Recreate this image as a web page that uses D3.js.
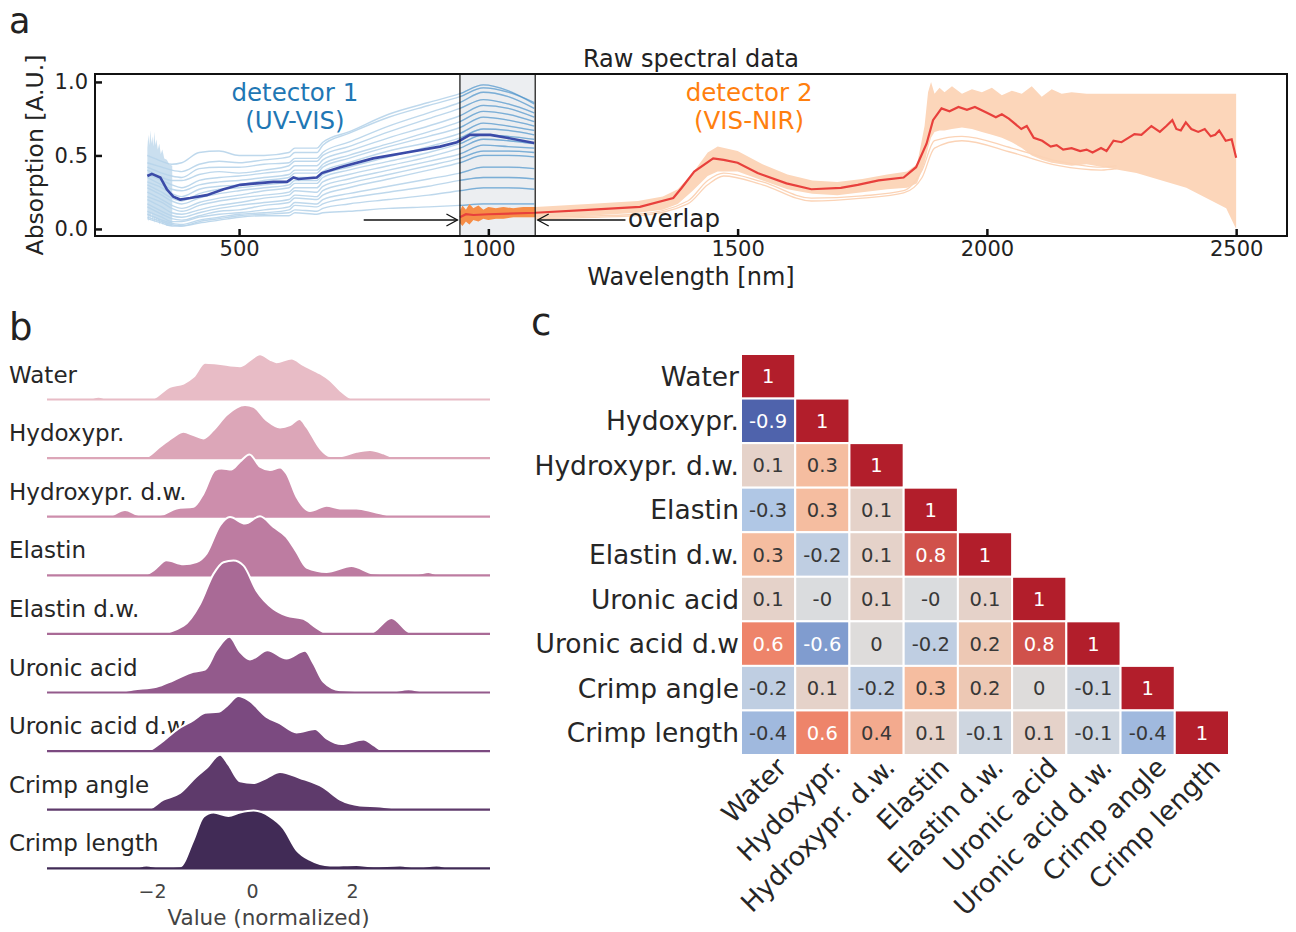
<!DOCTYPE html>
<html>
<head>
<meta charset="utf-8">
<script src="https://cdn.jsdelivr.net/npm/d3@7"></script>
<style>
  body { margin: 0; background: #fff; }
  text { font-family: "DejaVu Sans", sans-serif; }
</style>
</head>
<body>
<svg id="fig" width="1296" height="932"></svg>
<script>
// ---------- panel a : raw spectra ----------
var xTicksA = [500, 1000, 1500, 2000, 2500];
var yTicksA = [0, 0.5, 1.0];
var overlapRange = [943, 1094];

// detector 1 (UV-VIS) individual spectra, read at these wavelengths
var d1Wl = [316, 345, 365, 385, 420, 460, 500, 550, 600, 612, 656, 668, 720, 800, 880, 943, 990, 1040, 1092];
var d1Spectra = [
  [0.50, 0.46, 0.44, 0.45, 0.52, 0.53, 0.50, 0.50, 0.52, 0.55, 0.55, 0.59, 0.66, 0.78, 0.86, 0.92, 0.98, 0.94, 0.85],
  [0.45, 0.42, 0.40, 0.39, 0.44, 0.46, 0.45, 0.47, 0.49, 0.52, 0.52, 0.57, 0.65, 0.76, 0.84, 0.90, 0.96, 0.93, 0.86],
  [0.42, 0.38, 0.36, 0.35, 0.41, 0.42, 0.42, 0.44, 0.45, 0.48, 0.48, 0.52, 0.59, 0.70, 0.79, 0.86, 0.93, 0.90, 0.82],
  [0.40, 0.35, 0.33, 0.33, 0.37, 0.39, 0.38, 0.40, 0.43, 0.46, 0.46, 0.50, 0.56, 0.66, 0.75, 0.82, 0.88, 0.85, 0.79],
  [0.37, 0.33, 0.30, 0.28, 0.33, 0.35, 0.36, 0.38, 0.40, 0.43, 0.43, 0.47, 0.53, 0.62, 0.70, 0.77, 0.84, 0.82, 0.76],
  [0.35, 0.30, 0.27, 0.26, 0.30, 0.32, 0.33, 0.35, 0.37, 0.40, 0.40, 0.44, 0.50, 0.58, 0.66, 0.73, 0.80, 0.78, 0.73],
  [0.32, 0.28, 0.24, 0.22, 0.27, 0.29, 0.30, 0.33, 0.35, 0.38, 0.38, 0.42, 0.48, 0.56, 0.63, 0.69, 0.76, 0.74, 0.70],
  [0.30, 0.25, 0.21, 0.19, 0.24, 0.27, 0.28, 0.30, 0.32, 0.35, 0.35, 0.39, 0.45, 0.53, 0.59, 0.65, 0.72, 0.70, 0.67],
  [0.28, 0.23, 0.19, 0.17, 0.21, 0.24, 0.26, 0.28, 0.30, 0.33, 0.33, 0.37, 0.42, 0.49, 0.56, 0.62, 0.68, 0.67, 0.64],
  [0.25, 0.20, 0.16, 0.14, 0.18, 0.21, 0.23, 0.26, 0.28, 0.31, 0.31, 0.35, 0.40, 0.46, 0.52, 0.58, 0.64, 0.63, 0.61],
  [0.22, 0.18, 0.14, 0.12, 0.16, 0.19, 0.21, 0.23, 0.25, 0.28, 0.28, 0.32, 0.37, 0.43, 0.49, 0.55, 0.61, 0.60, 0.58],
  [0.20, 0.15, 0.11, 0.10, 0.13, 0.16, 0.18, 0.21, 0.23, 0.26, 0.25, 0.29, 0.34, 0.40, 0.46, 0.51, 0.57, 0.56, 0.55],
  [0.17, 0.12, 0.09, 0.08, 0.11, 0.14, 0.16, 0.18, 0.20, 0.23, 0.22, 0.26, 0.31, 0.37, 0.43, 0.48, 0.53, 0.53, 0.52],
  [0.15, 0.10, 0.07, 0.06, 0.09, 0.12, 0.13, 0.16, 0.18, 0.21, 0.20, 0.23, 0.28, 0.34, 0.40, 0.45, 0.50, 0.50, 0.49],
  [0.12, 0.08, 0.05, 0.05, 0.08, 0.10, 0.11, 0.13, 0.15, 0.18, 0.17, 0.20, 0.24, 0.29, 0.34, 0.38, 0.42, 0.42, 0.41],
  [0.10, 0.06, 0.04, 0.03, 0.06, 0.08, 0.10, 0.11, 0.13, 0.16, 0.15, 0.17, 0.21, 0.25, 0.29, 0.33, 0.35, 0.35, 0.34],
  [0.08, 0.05, 0.03, 0.02, 0.05, 0.07, 0.09, 0.10, 0.11, 0.13, 0.12, 0.14, 0.17, 0.20, 0.23, 0.26, 0.28, 0.28, 0.27],
  [0.07, 0.04, 0.02, 0.02, 0.04, 0.06, 0.08, 0.09, 0.09, 0.11, 0.10, 0.11, 0.12, 0.14, 0.15, 0.16, 0.17, 0.17, 0.17]
];
// noisy UV start of detector 1
var d1NoiseWl = [316, 318, 320, 322, 324, 326, 328, 330, 332, 334, 337, 340, 343, 346, 350, 355, 360, 366];
var d1NoiseHi = [0.55, 0.64, 0.57, 0.67, 0.58, 0.63, 0.56, 0.66, 0.57, 0.61, 0.54, 0.58, 0.51, 0.54, 0.48, 0.47, 0.44, 0.43];
var d1NoiseLo = [0.10, 0.05, 0.09, 0.06, 0.11, 0.05, 0.09, 0.04, 0.08, 0.05, 0.07, 0.03, 0.06, 0.03, 0.04, 0.02, 0.02, 0.02];
// detector 1 mean
var d1MeanWl = [316, 325, 342, 355, 368, 382, 402, 435, 469, 502, 535, 569, 596, 609, 619, 656, 666, 703, 769, 836, 903, 937, 963, 1004, 1037, 1092];
var d1Mean = [0.36, 0.375, 0.35, 0.27, 0.22, 0.20, 0.21, 0.23, 0.27, 0.30, 0.31, 0.32, 0.32, 0.35, 0.34, 0.35, 0.38, 0.42, 0.48, 0.52, 0.56, 0.59, 0.64, 0.64, 0.62, 0.585];

// detector 2 (VIS-NIR) spread of spectra
var d2BandWl = [943, 948, 955, 962, 970, 980, 990, 1000, 1015, 1030, 1050, 1070, 1094,
  1200, 1300, 1350, 1380, 1410, 1440, 1460, 1500, 1550, 1600,
  1650, 1700, 1750, 1800, 1840, 1860, 1875, 1882, 1888, 1895,
  1905, 1915, 1930, 1950, 1970, 1990, 2010, 2030, 2050, 2070,
  2090, 2110, 2130, 2150, 2170, 2200, 2300, 2400, 2480, 2500];
var d2Upper = [0.12, 0.16, 0.13, 0.17, 0.14, 0.16, 0.13, 0.15, 0.14, 0.15, 0.14, 0.15, 0.15,
  0.17, 0.19, 0.22, 0.27, 0.38, 0.52, 0.56, 0.53, 0.44, 0.37,
  0.33, 0.32, 0.34, 0.37, 0.39, 0.44, 0.70, 0.93, 1.00, 0.92,
  0.96, 0.93, 0.97, 0.92, 0.95, 0.93, 0.96, 0.91, 0.94, 0.92,
  0.97, 0.90, 0.95, 0.92, 0.93, 0.92, 0.92, 0.92, 0.92, 0.92];
var d2Lower = [0.04, 0.02, 0.05, 0.03, 0.06, 0.05, 0.07, 0.06, 0.07, 0.07, 0.08, 0.08, 0.08,
  0.09, 0.11, 0.13, 0.17, 0.26, 0.36, 0.39, 0.39, 0.33, 0.27,
  0.24, 0.23, 0.25, 0.27, 0.28, 0.31, 0.45, 0.55, 0.62, 0.66,
  0.67, 0.67, 0.68, 0.69, 0.68, 0.66, 0.64, 0.62, 0.59, 0.55,
  0.50, 0.47, 0.45, 0.44, 0.43, 0.44, 0.38, 0.28, 0.14, 0.0];
// two low outlying spectra of detector 2
var d2LowWl = [1094, 1300, 1400, 1440, 1472, 1550, 1648, 1750, 1833, 1870, 1895, 1950, 2050, 2144, 2229, 2260];
var d2Low1 = [0.07, 0.09, 0.17, 0.30, 0.36, 0.30, 0.19, 0.21, 0.245, 0.35, 0.55, 0.60, 0.52, 0.43, 0.40, 0.41];
var d2Low2 = [0.08, 0.10, 0.19, 0.33, 0.38, 0.32, 0.21, 0.225, 0.26, 0.40, 0.60, 0.63, 0.55, 0.46, 0.42, 0.43];
// detector 2 mean
var d2MeanWl = [943, 955, 970, 1000, 1094, 1200, 1304, 1371, 1388, 1413, 1451, 1472, 1500, 1540, 1598, 1648, 1707, 1741, 1783, 1833,
  1858, 1879, 1892, 1909, 1925, 1943, 1960, 1976, 2000, 2018, 2030, 2044, 2069, 2080, 2094, 2111, 2128, 2140, 2153, 2170,
  2187, 2200, 2212, 2229, 2240, 2254, 2270, 2296, 2310, 2330, 2347, 2360, 2372, 2380, 2389, 2399, 2410, 2424, 2437, 2449,
  2458, 2466, 2479, 2491, 2500];
var d2Mean = [0.08, 0.10, 0.095, 0.10, 0.11, 0.13, 0.15, 0.21, 0.28, 0.39, 0.48, 0.47, 0.45, 0.38, 0.31, 0.27, 0.28, 0.30, 0.33, 0.35,
  0.42, 0.58, 0.74, 0.82, 0.80, 0.83, 0.81, 0.83, 0.79, 0.76, 0.78, 0.75, 0.68, 0.70, 0.62, 0.60, 0.56, 0.57, 0.54, 0.55,
  0.53, 0.54, 0.52, 0.55, 0.53, 0.60, 0.59, 0.645, 0.64, 0.70, 0.66, 0.70, 0.74, 0.68, 0.67, 0.725, 0.68, 0.66, 0.68, 0.63,
  0.64, 0.67, 0.60, 0.61, 0.485];

// ---------- panel b : ridge densities [value, density] ----------
var ridgeLabels = ["Water", "Hydoxypr.", "Hydroxypr. d.w.", "Elastin", "Elastin d.w.", "Uronic acid", "Uronic acid d.w.", "Crimp angle", "Crimp length"];
var ridgeColors = ["#e8bcc6", "#dca6b8", "#cd8eac", "#bd7ca1", "#a96a96", "#935a8c", "#7b4a80", "#5e3a6b", "#412b56"];
var kdeWater = [[-4.1,0],[-3.3,0],[-3.07,0.027],[-2.85,0],[-2.04,0],[-1.64,0.127],[-1.37,0.16],[-1.17,0.227],[-0.94,0.367],[-0.71,0.36],[-0.24,0.333],[-0.04,0.393],[0.16,0.453],[0.36,0.40],[0.49,0.373],[0.79,0.41],[1.03,0.343],[1.36,0.26],[1.56,0.193],[1.76,0.093],[1.99,0.01],[2.1,0],[4.1,0]];
var kdeHydoxypr = [[-4.1,0],[-2.17,0],[-1.84,0.113],[-1.57,0.213],[-1.37,0.263],[-1.17,0.23],[-0.97,0.197],[-0.77,0.28],[-0.51,0.43],[-0.14,0.53],[0.03,0.513],[0.29,0.38],[0.56,0.307],[0.76,0.33],[0.95,0.39],[1.09,0.313],[1.36,0.097],[1.56,0.02],[1.76,0.02],[2.09,0.063],[2.36,0.08],[2.63,0.047],[2.83,0.007],[3.0,0],[4.1,0]];
var kdeHydroxyprDw = [[-4.1,0],[-2.9,0],[-2.54,0.067],[-2.24,0.017],[-1.84,0.017],[-1.51,0.083],[-1.17,0.10],[-0.97,0.233],[-0.74,0.467],[-0.61,0.483],[-0.41,0.473],[-0.24,0.55],[-0.05,0.623],[0.16,0.50],[0.36,0.467],[0.56,0.493],[0.69,0.433],[0.89,0.20],[1.16,0.057],[1.49,0.11],[1.76,0.083],[2.09,0.083],[2.43,0.05],[2.76,0.01],[3.0,0],[4.1,0]];
var kdeElastin = [[-4.1,0],[-2.17,0],[-1.97,0.05],[-1.71,0.15],[-1.37,0.11],[-1.11,0.133],[-0.91,0.217],[-0.64,0.50],[-0.44,0.583],[-0.14,0.517],[0.16,0.59],[0.43,0.483],[0.69,0.383],[0.89,0.233],[1.09,0.077],[1.49,0.033],[1.99,0.093],[2.43,0.017],[2.83,0.007],[3.3,0.01],[3.53,0.033],[3.76,0],[4.1,0]];
var kdeElastinDw = [[-4.1,0],[-1.91,0],[-1.37,0.083],[-1.04,0.30],[-0.77,0.60],[-0.57,0.717],[-0.37,0.733],[-0.17,0.683],[0.09,0.433],[0.43,0.25],[0.69,0.183],[1.03,0.15],[1.29,0.06],[1.49,0.007],[2.36,0.007],[2.79,0.16],[3.16,0.013],[3.4,0],[4.1,0]];
var kdeUronic = [[-4.1,0],[-2.71,0],[-2.37,0.03],[-1.91,0.057],[-1.57,0.123],[-1.17,0.207],[-0.94,0.23],[-0.71,0.423],[-0.45,0.557],[-0.24,0.407],[-0.04,0.33],[0.31,0.423],[0.69,0.34],[1.06,0.417],[1.23,0.29],[1.43,0.107],[1.76,0.023],[2.76,0.007],[3.13,0.033],[3.43,0.007],[3.7,0],[4.1,0]];
var kdeUronicDw = [[-4.1,0],[-2.11,0],[-1.84,0.077],[-1.51,0.21],[-1.17,0.31],[-0.94,0.383],[-0.67,0.393],[-0.51,0.45],[-0.27,0.55],[-0.07,0.51],[0.29,0.343],[0.56,0.277],[0.89,0.187],[1.26,0.22],[1.49,0.127],[1.79,0.07],[2.23,0.117],[2.43,0.06],[2.63,0.003],[4.1,0]];
var kdeCrimpAngle = [[-4.1,0],[-2.11,0],[-1.77,0.10],[-1.44,0.167],[-1.11,0.333],[-0.91,0.417],[-0.64,0.55],[-0.47,0.45],[-0.24,0.283],[0.03,0.267],[0.29,0.317],[0.56,0.377],[0.96,0.317],[1.43,0.223],[1.76,0.10],[2.16,0.043],[2.56,0.033],[2.96,0.007],[3.2,0],[4.1,0]];
var kdeCrimpLength = [[-4.1,0],[-2.4,0],[-2.11,0.027],[-1.84,0.007],[-1.44,0.017],[-1.17,0.283],[-0.97,0.517],[-0.77,0.557],[-0.47,0.523],[-0.24,0.557],[0.03,0.577],[0.36,0.517],[0.63,0.40],[0.89,0.183],[1.16,0.083],[1.56,0.027],[2.09,0.033],[2.43,0.017],[2.96,0.027],[3.29,0.007],[3.69,0.027],[4.03,0],[4.1,0]];
var ridgeKde = [kdeWater, kdeHydoxypr, kdeHydroxyprDw, kdeElastin, kdeElastinDw, kdeUronic, kdeUronicDw, kdeCrimpAngle, kdeCrimpLength];
var xTicksB = [-2, 0, 2];

// ---------- panel c : correlation matrix (lower triangle) ----------
var corrRowLabels = ["Water", "Hydoxypr.", "Hydroxypr. d.w.", "Elastin", "Elastin d.w.", "Uronic acid", "Uronic acid d.w", "Crimp angle", "Crimp length"];
var corrColLabels = ["Water", "Hydoxypr.", "Hydroxypr. d.w.", "Elastin", "Elastin d.w.", "Uronic acid", "Uronic acid d.w.", "Crimp angle", "Crimp length"];
var corrRows = [
  [1],
  [-0.9, 1],
  [0.1, 0.3, 1],
  [-0.3, 0.3, 0.1, 1],
  [0.3, -0.2, 0.1, 0.8, 1],
  [0.1, -0.02, 0.1, -0.02, 0.1, 1],
  [0.6, -0.6, 0.01, -0.2, 0.2, 0.8, 1],
  [-0.2, 0.1, -0.2, 0.3, 0.2, 0.01, -0.1, 1],
  [-0.4, 0.6, 0.4, 0.1, -0.1, 0.1, -0.1, -0.4, 1]
];

var svg = d3.select("#fig");
var defs = svg.append("defs");
var ink = "#222";

// ================= panel a =================
var A = {left: 95, right: 1287, top: 74, bottom: 236};
var xA = d3.scaleLinear().domain([211, 2602]).range([A.left, A.right]);
var yA = d3.scaleLinear().domain([-0.048, 1.054]).range([A.bottom, A.top]);

defs.append("clipPath").attr("id", "clipA").append("rect")
  .attr("x", A.left).attr("y", A.top).attr("width", A.right - A.left).attr("height", A.bottom - A.top);
defs.append("clipPath").attr("id", "clipOv").append("rect")
  .attr("x", xA(overlapRange[0])).attr("y", A.top)
  .attr("width", xA(overlapRange[1]) - xA(overlapRange[0])).attr("height", A.bottom - A.top);

var gA = svg.append("g").attr("clip-path", "url(#clipA)");

// gray overlap region
gA.append("rect")
  .attr("x", xA(overlapRange[0])).attr("y", A.top)
  .attr("width", xA(overlapRange[1]) - xA(overlapRange[0])).attr("height", A.bottom - A.top)
  .attr("fill", "#eceef1");

var d1Line = d3.line().x((d, i) => xA(d1Wl[i])).y(d => yA(d)).curve(d3.curveMonotoneX);

// noisy UV part
var noiseArea = d3.area()
  .x((d, i) => xA(d1NoiseWl[i]))
  .y0((d, i) => yA(d1NoiseLo[i]))
  .y1(d => yA(d));
gA.append("path").datum(d1NoiseHi).attr("d", noiseArea)
  .attr("fill", "#c4dbed").attr("opacity", 0.9);

gA.append("g").selectAll("path").data(d1Spectra).enter().append("path")
  .attr("d", d1Line).attr("fill", "none")
  .attr("stroke", "#b7d4ea").attr("stroke-width", 1.4).attr("opacity", 0.9);

// same spectra, darker inside the overlap
gA.append("g").attr("clip-path", "url(#clipOv)")
  .selectAll("path").data(d1Spectra).enter().append("path")
  .attr("d", d1Line).attr("fill", "none")
  .attr("stroke", "#3a86c2").attr("stroke-width", 1.3).attr("opacity", 0.5);

// detector 2 band
var d2Area = d3.area()
  .x((d, i) => xA(d2BandWl[i]))
  .y0((d, i) => yA(d2Lower[i]))
  .y1(d => yA(d));
gA.append("path").datum(d2Upper).attr("d", d2Area).attr("fill", "#fcd6ba");
gA.append("path").datum(d2Upper).attr("d", d2Area)
  .attr("clip-path", "url(#clipOv)").attr("fill", "#f47a2b").attr("opacity", 0.8);

var lowLine = d3.line().x((d, i) => xA(d2LowWl[i])).y(d => yA(d)).curve(d3.curveMonotoneX);
gA.selectAll("path.low").data([d2Low1, d2Low2]).enter().append("path")
  .attr("class", "low").attr("d", lowLine).attr("fill", "none")
  .attr("stroke", "#fbd3b6").attr("stroke-width", 1.3);

// means
gA.append("path").datum(d1Mean)
  .attr("d", d3.line().x((d, i) => xA(d1MeanWl[i])).y(d => yA(d)))
  .attr("fill", "none").attr("stroke", "#3b4ba8").attr("stroke-width", 2.6);
gA.append("path").datum(d2Mean)
  .attr("d", d3.line().x((d, i) => xA(d2MeanWl[i])).y(d => yA(d)))
  .attr("fill", "none").attr("stroke", "#e8403c").attr("stroke-width", 2.2);

// overlap border
svg.append("rect")
  .attr("x", xA(overlapRange[0])).attr("y", A.top)
  .attr("width", xA(overlapRange[1]) - xA(overlapRange[0])).attr("height", A.bottom - A.top)
  .attr("fill", "none").attr("stroke", "#111").attr("stroke-width", 1.2);

// axes (inward ticks)
var xAxisA = svg.append("g").attr("transform", `translate(0,${A.bottom})`)
  .call(d3.axisBottom(xA).tickValues(xTicksA).tickFormat(d3.format("d")).tickSize(-7).tickPadding(5));
var yAxisA = svg.append("g").attr("transform", `translate(${A.left},0)`)
  .call(d3.axisLeft(yA).tickValues(yTicksA).tickFormat(d3.format(".1f")).tickSize(-7).tickPadding(7));
[xAxisA, yAxisA].forEach(function(ax) {
  ax.select(".domain").remove();
  ax.selectAll(".tick line").attr("stroke", "#111").attr("stroke-width", 2.5);
  ax.selectAll(".tick text").attr("font-size", 21).attr("fill", ink)
    .style("font-family", "DejaVu Sans");
});

svg.append("rect")
  .attr("x", A.left).attr("y", A.top)
  .attr("width", A.right - A.left).attr("height", A.bottom - A.top)
  .attr("fill", "none").attr("stroke", "#111").attr("stroke-width", 2);

// arrows and text
function arrow(x1, x2, v) {
  var y = yA(v), dir = x2 > x1 ? 1 : -1;
  svg.append("line").attr("x1", xA(x1)).attr("x2", xA(x2)).attr("y1", y).attr("y2", y)
    .attr("stroke", "#111").attr("stroke-width", 1.3);
  var hx = xA(x2);
  svg.append("path")
    .attr("d", `M${hx - dir * 11},${y - 6} L${hx},${y} L${hx - dir * 11},${y + 6}`)
    .attr("fill", "none").attr("stroke", "#111").attr("stroke-width", 1.3);
}
arrow(750, 938, 0.061);
arrow(1275, 1099, 0.061);
svg.append("text").attr("x", xA(1280)).attr("y", yA(0.014))
  .attr("font-size", 24.5).attr("fill", ink).text("overlap");

svg.append("text").attr("x", xA(612)).attr("y", yA(0.87)).attr("text-anchor", "middle")
  .attr("font-size", 24.5).attr("fill", "#1f77b4").text("detector 1");
svg.append("text").attr("x", xA(612)).attr("y", yA(0.68)).attr("text-anchor", "middle")
  .attr("font-size", 24.5).attr("fill", "#1f77b4").text("(UV-VIS)");
svg.append("text").attr("x", xA(1523)).attr("y", yA(0.87)).attr("text-anchor", "middle")
  .attr("font-size", 24.5).attr("fill", "#ff7f0e").text("detector 2");
svg.append("text").attr("x", xA(1523)).attr("y", yA(0.68)).attr("text-anchor", "middle")
  .attr("font-size", 24.5).attr("fill", "#ff7f0e").text("(VIS-NIR)");

svg.append("text").attr("x", (A.left + A.right) / 2).attr("y", 67).attr("text-anchor", "middle")
  .attr("font-size", 24).attr("fill", ink).text("Raw spectral data");
svg.append("text").attr("x", (A.left + A.right) / 2).attr("y", 285).attr("text-anchor", "middle")
  .attr("font-size", 24).attr("fill", ink).text("Wavelength [nm]");
svg.append("text").attr("transform", `translate(43,${(A.top + A.bottom) / 2}) rotate(-90)`)
  .attr("text-anchor", "middle").attr("font-size", 23.5).attr("fill", ink).text("Absorption [A.U.]");

// panel letters
svg.append("text").attr("x", 9).attr("y", 33).attr("font-size", 35).attr("fill", ink).text("a");
svg.append("text").attr("x", 9).attr("y", 340).attr("font-size", 37).attr("fill", ink).text("b");
svg.append("text").attr("x", 531).attr("y", 335).attr("font-size", 37).attr("fill", ink).text("c");

// ================= panel b =================
var xB = d3.scaleLinear().domain([-4.1, 4.76]).range([47, 490]);
var rowB = d3.scaleLinear().domain([0, 8]).range([399.5, 868.3]);
var hB = d3.scaleLinear().domain([0, 1]).range([0, -100]);

// labels first, ridges may cover their tails
ridgeLabels.forEach(function(lab, i) {
  svg.append("text").attr("x", 9).attr("y", rowB(i) - 17)
    .attr("font-size", 23).attr("fill", "#262626").text(lab);
});

var ridgeArea = d3.area().x(d => xB(d[0])).y0(0).y1(d => hB(d[1])).curve(d3.curveMonotoneX);
var ridgeLine = d3.line().x(d => xB(d[0])).y(d => hB(d[1])).curve(d3.curveMonotoneX);

ridgeKde.forEach(function(kde, i) {
  var g = svg.append("g").attr("transform", `translate(0,${rowB(i)})`);
  g.append("path").datum(kde).attr("d", ridgeArea).attr("fill", ridgeColors[i]);
  g.append("path").datum(kde).attr("d", ridgeLine)
    .attr("fill", "none").attr("stroke", "#fff").attr("stroke-width", 2);
  g.append("line").attr("x1", xB.range()[0]).attr("x2", xB.range()[1])
    .attr("y1", 0).attr("y2", 0)
    .attr("stroke", ridgeColors[i]).attr("stroke-width", 2.2);
});

var xAxisB = svg.append("g").attr("transform", "translate(0,879)")
  .call(d3.axisBottom(xB).tickValues(xTicksB).tickSize(0).tickPadding(6)
    .tickFormat(d => d < 0 ? "\u2212" + Math.abs(d) : String(d)));
xAxisB.select(".domain").remove();
xAxisB.selectAll(".tick text").attr("font-size", 19).attr("fill", "#444")
  .style("font-family", "DejaVu Sans");
svg.append("text").attr("x", (xB.range()[0] + xB.range()[1]) / 2).attr("y", 925)
  .attr("text-anchor", "middle").attr("font-size", 21.5).attr("fill", "#444")
  .text("Value (normalized)");

// ================= panel c =================
var colC = d3.scaleBand().domain(d3.range(9)).range([741, 1229]);
var rowC = d3.scaleBand().domain(d3.range(9)).range([354, 755]);
var corrColor = d3.scaleLinear()
  .domain([-1, -0.6, -0.3, 0, 0.3, 0.6, 1])
  .range(["#3f50a0", "#809ccf", "#b0c7e5", "#dddddd", "#f5bda0", "#ee846a", "#b21e2b"])
  .interpolate(d3.interpolateRgb);

function luminance(c) {
  var r = d3.rgb(c);
  var f = function(v) { v /= 255; return v <= 0.03928 ? v / 12.92 : Math.pow((v + 0.055) / 1.055, 2.4); };
  return 0.2126 * f(r.r) + 0.7152 * f(r.g) + 0.0722 * f(r.b);
}
function fmt(v) {
  var r = Math.round(v * 10) / 10;
  return (r === 0 && 1 / r < 0) ? "-0" : String(r);
}

corrRowLabels.forEach(function(lab, i) {
  svg.append("text").attr("x", 739).attr("y", rowC(i) + rowC.bandwidth() / 2)
    .attr("dy", "0.36em").attr("text-anchor", "end")
    .attr("font-size", 26.5).attr("fill", "#262626").text(lab);
});

var cells = [];
corrRows.forEach(function(row, i) {
  row.forEach(function(v, j) { cells.push({i: i, j: j, v: v}); });
});
var gC = svg.append("g");
gC.selectAll("rect").data(cells).enter().append("rect")
  .attr("x", d => colC(d.j)).attr("y", d => rowC(d.i))
  .attr("width", colC.bandwidth()).attr("height", rowC.bandwidth())
  .attr("fill", d => corrColor(d.v))
  .attr("stroke", "#fff").attr("stroke-width", 2);
gC.selectAll("text").data(cells).enter().append("text")
  .attr("x", d => colC(d.j) + colC.bandwidth() / 2)
  .attr("y", d => rowC(d.i) + rowC.bandwidth() / 2)
  .attr("dy", "0.36em").attr("text-anchor", "middle")
  .attr("font-size", 19.5)
  .attr("fill", d => luminance(corrColor(d.v)) > 0.408 ? "#383838" : "#fff")
  .text(d => fmt(d.v));

corrColLabels.forEach(function(lab, j) {
  var cx = colC(j) + colC.bandwidth() / 2 + 20;
  svg.append("text").attr("transform", `translate(${cx},769) rotate(-45)`)
    .attr("text-anchor", "end").attr("font-size", 26.5).attr("fill", "#262626").text(lab);
});
</script>
</body>
</html>
